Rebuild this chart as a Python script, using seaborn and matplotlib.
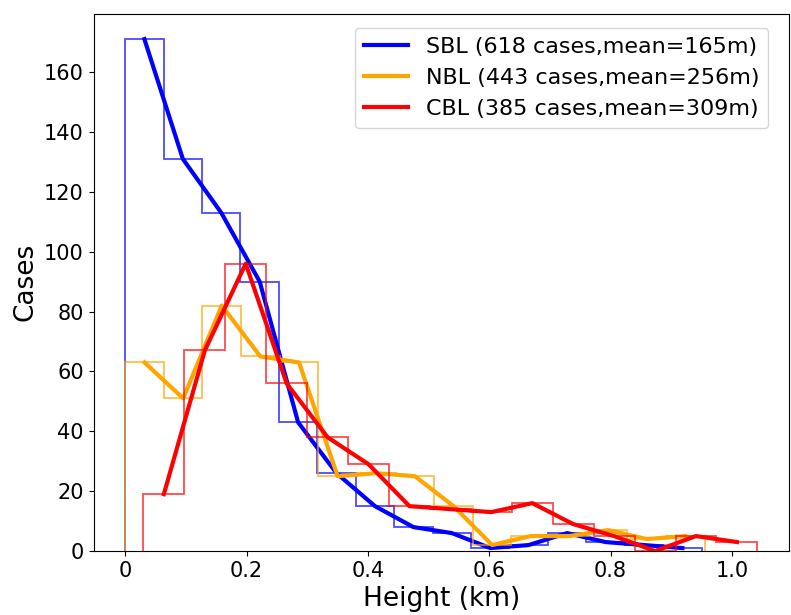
import numpy as np
import matplotlib
matplotlib.use("Agg")
import matplotlib.pyplot as plt
import seaborn as sns

# bin counts (15 bins per regime)
sbl_counts = [171, 131, 113, 90, 43, 26, 15, 8, 6, 1, 2, 6, 3, 2, 1]
nbl_counts = [63, 51, 82, 65, 63, 25, 26, 25, 15, 2, 5, 5, 7, 4, 5]
cbl_counts = [19, 67, 96, 56, 38, 29, 15, 14, 13, 16, 9, 5, 0, 5, 3]

# height range (km) covered by each regime's histogram
sbl_range = (0.0, 0.950)
nbl_range = (0.0, 0.955)
cbl_range = (0.030, 1.042)

labels = ["SBL (618 cases,mean=165m)",
          "NBL (443 cases,mean=256m)",
          "CBL (385 cases,mean=309m)"]
colors = ["blue", "orange", "red"]

xticks = [0, 0.2, 0.4, 0.6, 0.8, 1.0]
xtick_labels = ["0", "0.2", "0.4", "0.6", "0.8", "1.0"]

fig = plt.figure(figsize=(7.91, 6.15), dpi=100)
ax = fig.add_axes([0.1183, 0.104, 0.8792, 0.874])

series = [(sbl_counts, sbl_range), (nbl_counts, nbl_range), (cbl_counts, cbl_range)]
for (counts, rng), lab, c in zip(series, labels, colors):
    edges = np.linspace(rng[0], rng[1], len(counts) + 1)
    centers = 0.5 * (edges[:-1] + edges[1:])
    ax.hist(centers, bins=edges, weights=counts, histtype="step",
            color=c, alpha=0.7, linewidth=1.3)
    sns.lineplot(x=centers, y=counts, ax=ax, color=c, linewidth=3,
                 sort=False, label=lab)

ax.set_xlabel("Height (km)", fontsize=19)
ax.set_ylabel("Cases", fontsize=19)
ax.tick_params(labelsize=15)
ax.set_xticks(xticks)
ax.set_xticklabels(xtick_labels)
ax.set_yticks(range(0, 161, 20))
ax.legend(loc="upper right", bbox_to_anchor=(0.970, 0.973),
          borderaxespad=0, fontsize=16)

fig.savefig("out.png", dpi=100)
